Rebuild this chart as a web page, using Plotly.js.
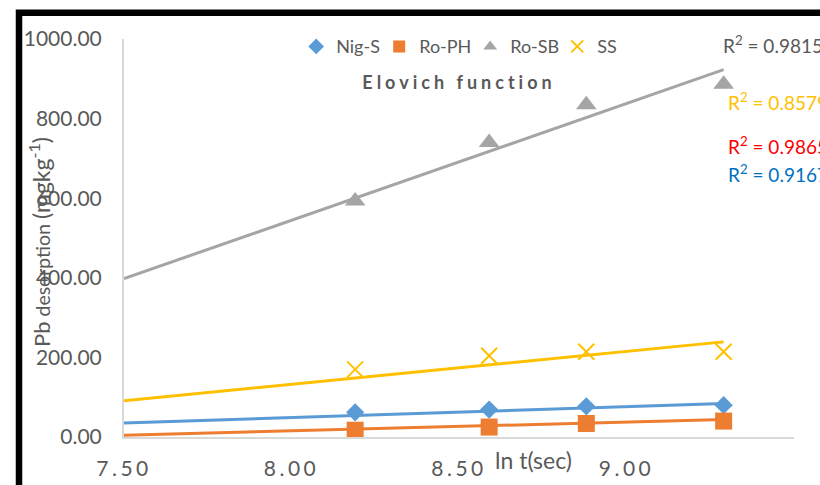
<!DOCTYPE html>
<html><head><meta charset="utf-8">
<script src="https://cdn.plot.ly/plotly-3.0.1.min.js"></script>
<style>
html,body{margin:0;padding:0;background:#fff;}
#chart{width:820px;height:485px;}
.xtick text{letter-spacing:3.5px;}
.gtitle{letter-spacing:4px;}
</style></head><body><div id="chart"></div>
<script>
// ln t (sec) for t = 3600, 5400, 7200, 10800 s
const lnT = [8.19, 8.59, 8.88, 9.29];
const nigS = [62, 69, 77, 80];
const roPH = [17, 25, 34, 40];
const roSB = [593, 740, 835, 886];
const ss = [170, 204, 214, 214];

// linear trendlines as drawn (start at axis min, end at last point)
const trendX = [7.5, 9.29];
const trendNigS = [35, 84];
const trendRoPH = [4.5, 44];
const trendRoSB = [398, 923];
const trendSS = [91, 239];

const r2Labels = ['R<sup>2</sup> = 0.9815', 'R<sup>2</sup> = 0.8579', 'R<sup>2</sup> = 0.9865', 'R<sup>2</sup> = 0.9167'];
const r2Colors = ['#595959', '#FFC000', '#FF0000', '#0070C0'];

const xTicks = [7.5, 8.0, 8.5, 9.0, 9.5];
const yTicks = [0, 200, 400, 600, 800, 1000];

const C = {blue:'#5B9BD5', orange:'#ED7D31', gray:'#A5A5A5', yellow:'#FFC000'};
const FONT = 'Lato, "Open Sans", sans-serif';
const TXT = '#595959';

function trend(y, color){
  return {x: trendX, y: y, mode:'lines', type:'scatter', showlegend:false,
          hoverinfo:'skip', line:{color:color, width:3}};
}

const data = [
  trend(trendRoSB, C.gray), trend(trendSS, C.yellow),
  trend(trendNigS, C.blue), trend(trendRoPH, C.orange),
  {x: lnT, y: nigS, name:'Nig-S', mode:'markers', type:'scatter', legendwidth:38,
   marker:{symbol:'diamond', size:14, color:C.blue}},
  {x: lnT, y: roPH, name:'Ro-PH', mode:'markers', type:'scatter', legendwidth:46,
   marker:{symbol:'square', size:17, color:C.orange}},
  {x: lnT, y: roSB, name:'Ro-SB', mode:'markers', type:'scatter', legendwidth:42,
   marker:{symbol:'triangle-up', size:18, color:C.gray}},
  {x: lnT, y: ss, name:'SS', mode:'markers', type:'scatter', legendwidth:25,
   marker:{symbol:'x-thin', size:16, color:C.yellow, line:{color:C.yellow, width:2}}}
];

const L = 124, R = 26, T = 39, B = 48, W = 820, H = 485;
const pw = W - L - R, ph = H - T - B;
const px = v => (v - L) / pw;
const py = v => (H - B - v) / ph;

const r2Pos = [[720.7, 45], [725.5, 102], [725.5, 145.5], [725.5, 173]];
const annotations = r2Labels.map((t, i) => ({
  text: t, xref:'paper', yref:'paper', x: px(r2Pos[i][0]), y: py(r2Pos[i][1]),
  xanchor:'left', yanchor:'middle', showarrow:false,
  font:{family:FONT, size:19, color:r2Colors[i]}
}));
annotations.push({
  text:'ln t(sec)', xref:'paper', yref:'paper', x:px(533), y:py(460),
  xanchor:'center', yanchor:'middle', showarrow:false,
  font:{family:FONT, size:23, color:TXT}
});
annotations.push({
  text:'<span style="font-size:22px">Pb</span> desorption <span style="font-size:23px">(mgkg<sup>-1</sup>)</span>',
  xref:'paper', yref:'paper', x:px(39), y:py(242), textangle:-90,
  xanchor:'center', yanchor:'middle', showarrow:false,
  font:{family:FONT, size:19.5, color:TXT}
});

const layout = {
  width:W, height:H, margin:{l:L, r:R, t:T, b:B, pad:0},
  paper_bgcolor:'#fff', plot_bgcolor:'#fff',
  font:{family:FONT, color:TXT},
  title:{text:'<b>Elovich function</b>', x:0.5, xref:'paper', y:1-83/H, yref:'container',
         xanchor:'center', yanchor:'middle', font:{family:FONT, size:18, color:TXT}},
  xaxis:{range:[7.5, 9.5], tickvals:xTicks, tickformat:'.2f', showgrid:false, zeroline:false,
         showline:true, linecolor:'#D9D9D9', linewidth:2, ticks:'', ticklabelstandoff:12,
         tickfont:{family:FONT, size:21, color:TXT}, fixedrange:true},
  yaxis:{range:[0, 1000], tickvals:yTicks, tickformat:'.2f', showgrid:false, zeroline:false,
         showline:true, linecolor:'#D9D9D9', linewidth:2, ticks:'', ticklabelstandoff:16,
         tickfont:{family:FONT, size:21, color:TXT}, fixedrange:true},
  showlegend:true,
  legend:{orientation:'h', x:0.257, y:py(46.7), xanchor:'left', yanchor:'middle',
          font:{family:FONT, size:18, color:TXT}, itemsizing:'constant',
          entrywidthmode:'pixels', bgcolor:'rgba(0,0,0,0)'},
  annotations: annotations,
  shapes:[{type:'path', xref:'paper', yref:'paper',
           path:`M ${px(19)},${py(H+10)} L ${px(19)},${py(12.7)} L ${px(W+10)},${py(12.7)}`,
           line:{color:'#000', width:6.5}}]
};

Plotly.newPlot('chart', data, layout, {displayModeBar:false, staticPlot:true});
</script></body></html>
